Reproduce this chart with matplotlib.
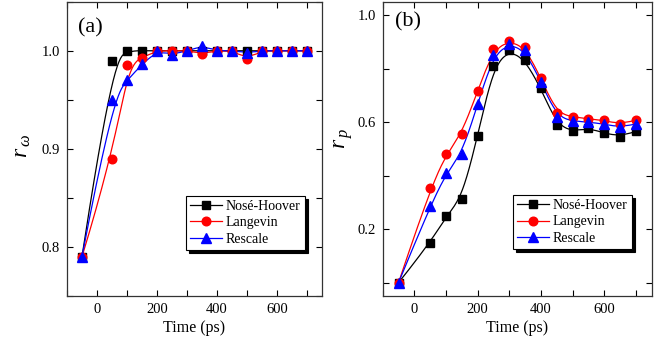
import numpy as np
import matplotlib
matplotlib.use("Agg")
import matplotlib.pyplot as plt
from matplotlib.ticker import MultipleLocator

plt.rcParams['font.family'] = ['Liberation Serif', 'DejaVu Serif']
plt.rcParams['mathtext.fontset'] = 'custom'
plt.rcParams['mathtext.rm'] = 'Liberation Serif'
plt.rcParams['mathtext.it'] = 'Liberation Serif:italic'

time = [-50, 50, 100, 150, 200, 250, 300, 350, 400, 450, 500, 550, 600, 650, 700]

# panel (a): r_omega
a_nh = [0.79, 0.99, 1.0, 1.0, 1.0, 1.0, 1.0, 1.0, 1.0, 1.0, 1.0, 1.0, 1.0, 1.0, 1.0]
a_lg = [0.79, 0.89, 0.985, 0.993, 1.0, 1.0, 1.0, 0.997, 1.0, 1.0, 0.992, 1.0, 1.0, 1.0, 1.0]
a_rs = [0.79, 0.95, 0.97, 0.986, 1.0, 0.996, 1.0, 1.005, 1.0, 1.0, 0.998, 1.0, 1.0, 1.0, 1.0]

# panel (b): r_p
b_nh = [0.0, 0.148, 0.25, 0.313, 0.549, 0.81, 0.87, 0.833, 0.726, 0.59, 0.565, 0.578, 0.559, 0.546, 0.565]
b_lg = [0.0, 0.353, 0.48, 0.556, 0.718, 0.872, 0.904, 0.88, 0.764, 0.633, 0.62, 0.612, 0.607, 0.592, 0.607]
b_rs = [0.0, 0.287, 0.41, 0.48, 0.667, 0.852, 0.893, 0.868, 0.751, 0.62, 0.604, 0.6, 0.593, 0.58, 0.593]

labels = ['Nosé-Hoover', 'Langevin', 'Rescale']
colors = ['black', 'red', 'blue']
markers = ['s', 'o', '^']
msizes = [5.5, 6.2, 6.8]


def bspline(xs, ys, k=3, n=400):
    P = np.column_stack([xs, ys]).astype(float)
    m = len(P)
    nint = m - k
    knots = np.concatenate([np.zeros(k), np.arange(nint + 1), np.full(k, nint)]).astype(float)
    t = np.linspace(0, nint, n)
    t[-1] -= 1e-9
    out = []
    for tt in t:
        s = np.searchsorted(knots, tt, side='right') - 1
        s = min(max(s, k), m - 1)
        d = [P[j + s - k].copy() for j in range(k + 1)]
        for r in range(1, k + 1):
            for j in range(k, r - 1, -1):
                i = j + s - k
                den = knots[i + k + 1 - r] - knots[i]
                alpha = 0.0 if den == 0 else (tt - knots[i]) / den
                d[j] = (1 - alpha) * d[j - 1] + alpha * d[j]
        out.append(d[k])
    out = np.array(out)
    return out[:, 0], out[:, 1]


fig = plt.figure(figsize=(6.67, 3.43), dpi=100)
axA = fig.add_axes([0.1004, 0.137, 0.3824, 0.858])
axB = fig.add_axes([0.5738, 0.137, 0.4032, 0.858])

for ax, data in [(axA, [a_nh, a_lg, a_rs]), (axB, [b_nh, b_lg, b_rs])]:
    for ys, lab, c, mk, ms in zip(data, labels, colors, markers, msizes):
        sx, sy = bspline(time, ys)
        ax.plot(sx, sy, color=c, lw=0.9, zorder=2)
        ax.plot(time, ys, ls='none', marker=mk, ms=ms, color=c, mec=c, zorder=3)
        ax.plot([], [], color=c, lw=0.9, marker=mk, ms=ms, label=lab)
    ax.set_xlim(-100, 750)
    ax.xaxis.set_major_locator(MultipleLocator(200))
    ax.xaxis.set_minor_locator(MultipleLocator(100))
    ax.tick_params(which='both', direction='in', top=True, right=True, labelsize=10.5, width=0.8)
    ax.tick_params(which='major', length=4)
    ax.tick_params(which='minor', length=4)
    ax.tick_params(axis='y', pad=5)
    ax.tick_params(axis='x', pad=5)
    for sp in ax.spines.values():
        sp.set_linewidth(0.9)
        sp.set_color('#333333')
    ax.set_xlabel('Time (ps)', fontsize=11.5, labelpad=3)

axA.set_ylim(0.75, 1.05)
axA.yaxis.set_major_locator(MultipleLocator(0.1))
axA.yaxis.set_minor_locator(MultipleLocator(0.05))
axA.set_ylabel(r'$r_{\,\omega}$', fontsize=17)
axA.yaxis.set_label_coords(-0.133, 0.51)
axA.text(0.043, 0.945, '(a)', transform=axA.transAxes, fontsize=16, va='top', ha='left')

axB.set_ylim(-0.05, 1.05)
axB.yaxis.set_major_locator(MultipleLocator(0.4))
axB.yaxis.set_minor_locator(MultipleLocator(0.2))
axB.set_yticks([0.2, 0.6, 1.0])
axB.set_ylabel(r'$r_{\,p}$', fontsize=17)
axB.yaxis.set_label_coords(-0.103, 0.536)
axB.text(0.046, 0.963, '(b)', transform=axB.transAxes, fontsize=16, va='top', ha='left')

shadow = {'ox': 2.2, 'oy': -2.2, 'facecolor': 'black', 'edgecolor': 'black', 'alpha': 1}
for ax, anchor in [(axA, (0.933, 0.341)), (axB, (0.926, 0.344))]:
    leg = ax.legend(loc='upper right', bbox_to_anchor=anchor, borderaxespad=0,
                    fontsize=10, frameon=True, fancybox=False, shadow=shadow,
                    handlelength=2.3, handletextpad=0.3, borderpad=0.3, labelspacing=0.25)
    leg.get_frame().set_edgecolor('black')
    leg.get_frame().set_linewidth(0.8)
    leg.get_frame().set_alpha(1)

fig.savefig('out.png', dpi=100)
